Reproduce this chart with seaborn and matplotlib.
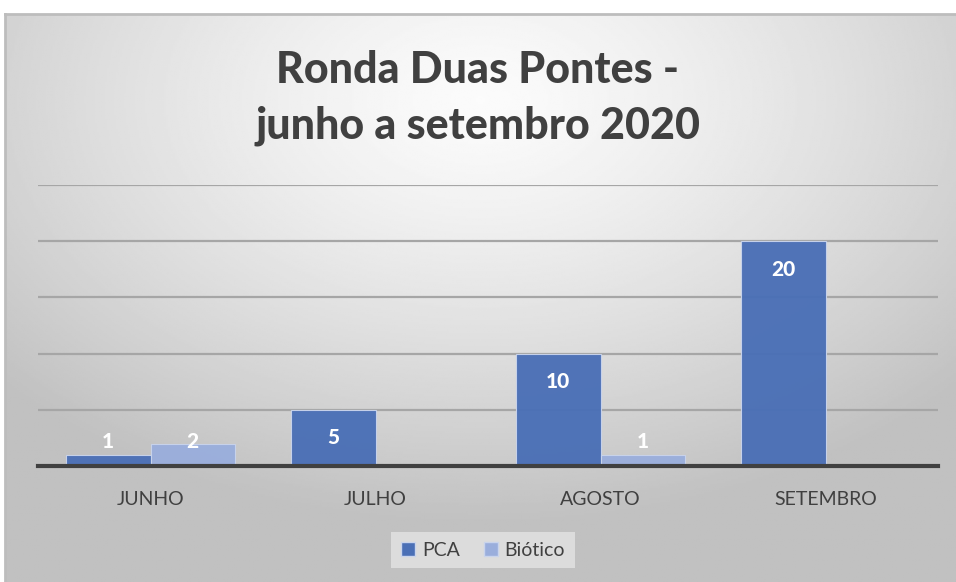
import numpy as np
import pandas as pd
import seaborn as sns
import matplotlib.pyplot as plt
from matplotlib.lines import Line2D

# chart values
months = ["JUNHO", "JULHO", "AGOSTO", "SETEMBRO"]
pca = [1, 5, 10, 20]
biotico = [2, 0, 1, 0]
series = ["PCA", "Biótico"]
colors = ["#4A6FB6", "#9AAEDC"]

data = pd.DataFrame({
    "mes": months * 2,
    "valor": pca + biotico,
    "serie": [series[0]] * 4 + [series[1]] * 4,
})

sns.set_style("white")
plt.rcParams["font.family"] = ["Lato", "DejaVu Sans"]

fig = plt.figure(figsize=(9.56, 5.82), dpi=100)

# gradient background
bg = fig.add_axes([5 / 956, 0, 1 - 5 / 956, 1 - 14 / 582], zorder=-5)
yy, xx = np.mgrid[0:1:300j, 0:1:500j]
r = np.sqrt(((xx - 0.5) * 1.1) ** 2 + ((yy - 0.15) * 1.0) ** 2)
grad = 0.985 - 0.23 * np.clip(r / 0.75, 0, 1) ** 1.3
bg.imshow(grad, cmap="gray", vmin=0, vmax=1, aspect="auto", extent=[0, 1, 1, 0])
bg.set_xticks([])
bg.set_yticks([])
for s in ["right", "bottom"]:
    bg.spines[s].set_visible(False)
for s in ["top", "left"]:
    bg.spines[s].set_color("#bdbdbd")
    bg.spines[s].set_linewidth(2)

ax = fig.add_axes([38 / 956, 1 - 466 / 582, 900 / 956, (466 - 185) / 582])
ax.patch.set_alpha(0)
sns.barplot(data=data, x="mes", y="valor", hue="serie", palette=colors,
            width=0.75, ax=ax, legend=False, alpha=0.96, saturation=1,
            edgecolor="#c9d4ec", linewidth=0.8, zorder=3)

ax.set_ylim(0, 25)
ax.set_yticks([0, 5, 10, 15, 20, 25])
ax.yaxis.grid(True, color="#a6a6a6", linewidth=1.6, zorder=0)
ax.set_yticklabels([])
ax.tick_params(axis="y", length=0)
ax.tick_params(axis="x", length=0, pad=18, labelsize=14, labelcolor="#404040")
ax.set_xlabel("")
ax.set_ylabel("")
for s in ["top", "right", "left"]:
    ax.spines[s].set_visible(False)
ax.spines["bottom"].set_color("#404040")
ax.spines["bottom"].set_linewidth(3)
ax.spines["bottom"].set_zorder(4)

# data labels
for bar in ax.patches:
    h = bar.get_height()
    if h <= 0:
        continue
    ypos = max(h - 2.5, 2.2)
    ax.text(bar.get_x() + bar.get_width() / 2, ypos, f"{int(h)}",
            ha="center", va="center", color="white", fontsize=15,
            fontweight="black", zorder=5)

fig.text(0.5, 1 - 98 / 582, "Ronda Duas Pontes -\njunho a setembro 2020",
         ha="center", va="center", fontsize=31, fontweight="black",
         color="#404040", linespacing=1.45)

handles = [Line2D([], [], marker="s", linestyle="", markersize=10,
                  markerfacecolor=c, markeredgecolor="#c9d4ec") for c in colors]
leg = fig.legend(handles, series, loc="center", bbox_to_anchor=(0.505, 1 - 550 / 582),
                 ncol=2, frameon=True, fontsize=14, handlelength=0.8,
                 handletextpad=0.3, columnspacing=1.2, borderpad=0.5,
                 fancybox=False)
leg.get_frame().set_facecolor("#e4e4e4")
leg.get_frame().set_edgecolor("none")
for t in leg.get_texts():
    t.set_color("#404040")

fig.savefig("out.png", dpi=100)
